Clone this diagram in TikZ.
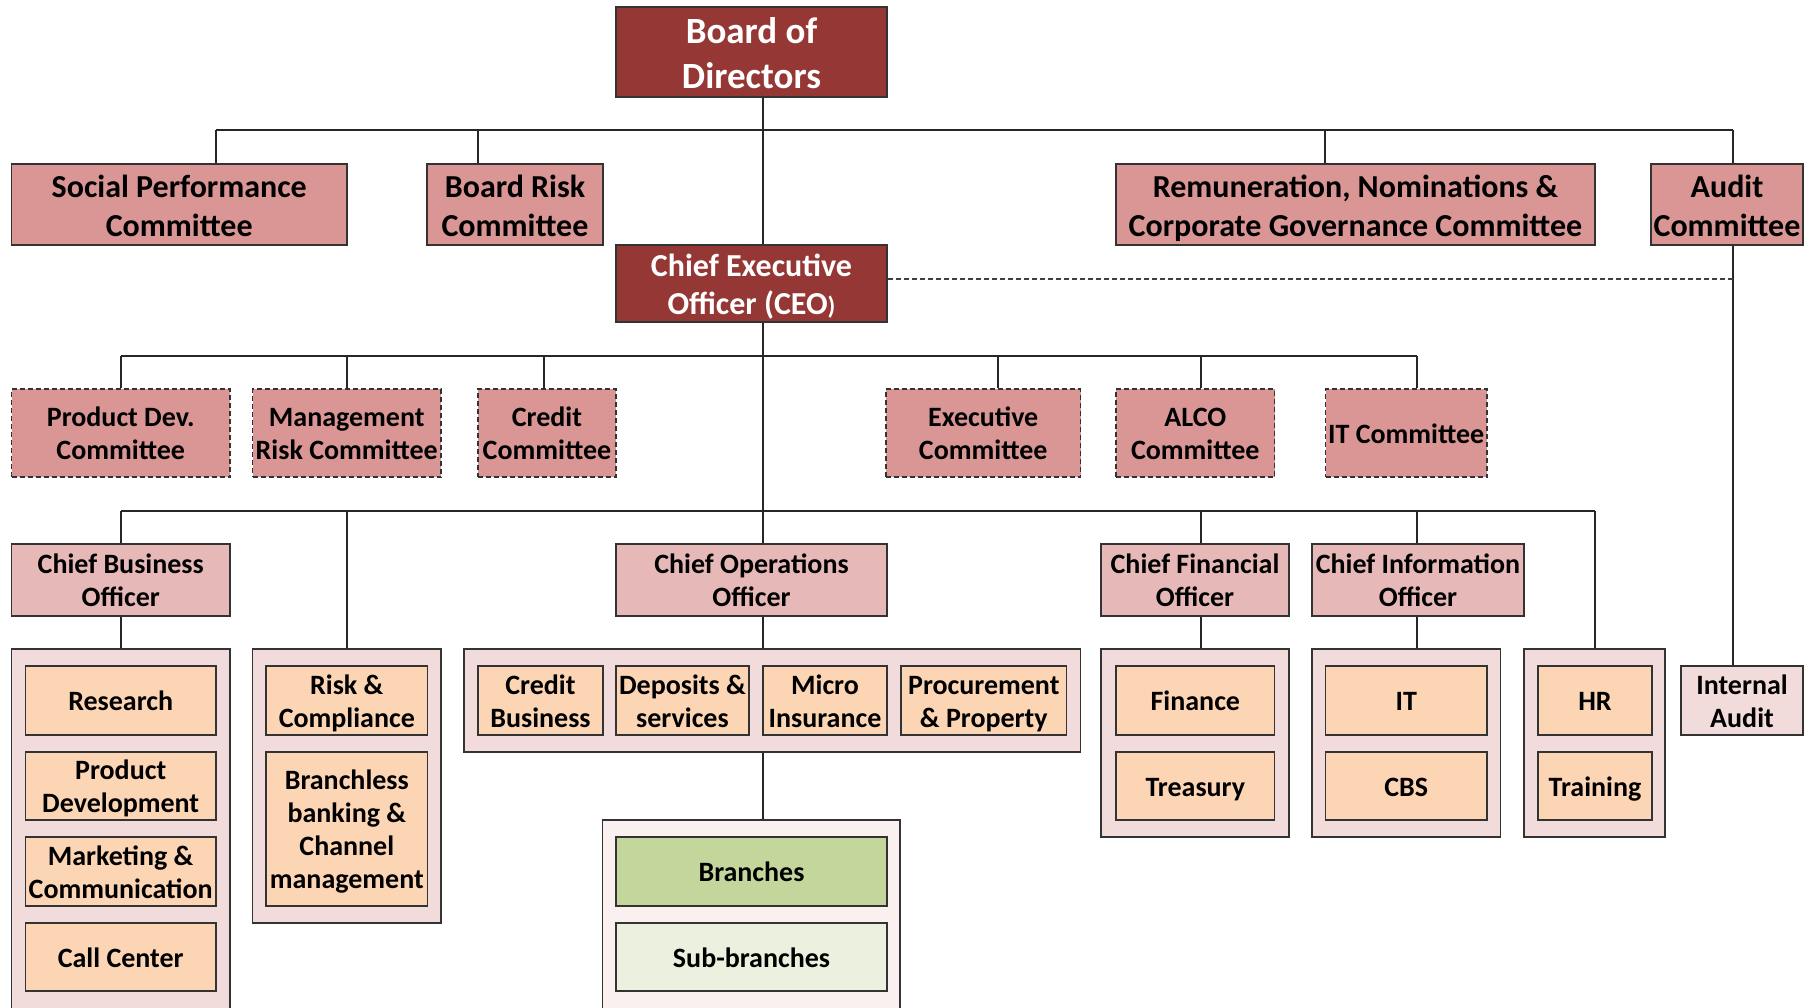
\documentclass[tikz,border=0pt]{standalone}
\usepackage{fontspec}
\setmainfont{Carlito}
\definecolor{dred}{HTML}{953735}
\definecolor{pinkA}{HTML}{D99694}
\definecolor{pinkB}{HTML}{E6B9B8}
\definecolor{pinkC}{HTML}{F2DCDB}
\definecolor{pale}{HTML}{FAF0F0}
\definecolor{peach}{HTML}{FCD5B5}
\definecolor{greenA}{HTML}{C3D69B}
\definecolor{greenB}{HTML}{EBF1DE}
\tikzset{
  base/.style={draw=black!80, line width=1.6pt, inner sep=0pt, align=center,
    font=\bfseries\fontsize{28}{33}\selectfont, text=black},
  topcom/.style={base, fill=pinkA, font=\bfseries\fontsize{32}{39}\selectfont},
  execbox/.style={base, fill=dred, text=white},
  comm/.style={base, fill=pinkA, dash pattern=on 5pt off 3pt},
  officer/.style={base, fill=pinkB},
  grp/.style={base, fill=pinkC},
  palegrp/.style={base, fill=pale},
  unit/.style={base, fill=peach},
  conn/.style={draw=black!85, line width=1.5pt},
  dconn/.style={draw=black!75, line width=1.5pt, dash pattern=on 5pt off 3pt},
}
\newcommand{\ms}{\rule[-0.19\baselineskip]{0pt}{\baselineskip}}
\newcommand{\bx}[7]{\node[#1, minimum width={(#4-#2)*1pt}, minimum height={(#5-#3)*1pt}] (#6) at ({(#2+#4)/2},{(#3+#5)/2}) {\ms #7\ms};}
\newcommand{\gbx}[6]{\node[#1, minimum width={(#4-#2)*1pt}, minimum height={(#5-#3)*1pt}] (#6) at ({(#2+#4)/2},{(#3+#5)/2}) {};}
\begin{document}
\begin{tikzpicture}[x=1pt,y=-1pt]
\clip (0,0) rectangle (1812,1007);
\fill[white] (0,0) rectangle (1812,1007);
% top
\bx{execbox, font=\bfseries\fontsize{37}{45}\selectfont}{616}{7}{887}{97}{board}{Board of\\Directors}
\bx{topcom}{11.5}{164}{347}{245}{sp}{Social Performance\\Committee}
\bx{topcom}{427}{164}{603}{245}{brc}{Board Risk\\Committee}
\bx{topcom}{1116}{164}{1595}{245}{rem}{Remuneration, Nominations \&\\Corporate Governance Committee}
\bx{topcom}{1651}{164}{1803}{245}{aud}{Audit\\Committee}
\bx{execbox, font=\bfseries\fontsize{32}{38}\selectfont}{616}{245}{887}{322}{ceo}{Chief Executive\\Officer (CEO{\fontsize{25}{25}\selectfont)}}
% committees
\bx{comm}{11.5}{389}{230}{477}{pdc}{Product Dev.\\Committee}
\bx{comm}{252.5}{389}{441}{477}{mrc}{Management\\Risk Committee}
\bx{comm}{478}{389}{616}{477}{cc}{Credit\\Committee}
\bx{comm}{886}{389}{1080.5}{477}{exc}{Executive\\Committee}
\bx{comm}{1116}{389}{1274.6}{477}{alco}{ALCO\\Committee}
\bx{comm}{1325.5}{389}{1487}{477}{itc}{IT Committee}
% officers
\bx{officer}{11.5}{544}{230}{616}{cbo}{Chief Business\\Officer}
\bx{officer}{616}{544}{887}{616}{coo}{Chief Operations\\Officer}
\bx{officer}{1101}{544}{1289}{616}{cfo}{Chief Financial\\Officer}
\bx{officer}{1312}{544}{1524}{616}{cio}{Chief Information\\Officer}
% groups
\gbx{grp}{11.5}{649}{230}{1015}{g1}
\gbx{grp}{252.5}{649}{441}{923}{g2}
\gbx{grp}{464}{649}{1080.5}{752}{g3}
\gbx{palegrp}{602.6}{820}{900}{1015}{g4}
\gbx{grp}{1101}{649}{1289}{837}{g5}
\gbx{grp}{1312}{649}{1500.5}{837}{g6}
\gbx{grp}{1524}{649}{1665}{837}{g7}
% units
\bx{unit}{25.4}{666}{216}{735}{res}{Research}
\bx{unit}{25.4}{752}{216}{820}{prd}{Product\\Development}
\bx{unit}{25.4}{837}{216}{906}{mkt}{Marketing \&\\Communication}
\bx{unit}{25.4}{923}{216}{991}{call}{Call Center}
\bx{unit}{266}{666}{427.6}{735}{rc}{Risk \&\\Compliance}
\bx{unit}{266}{752}{427.6}{906}{bb}{Branchless\\banking \&\\Channel\\management}
\bx{unit}{478}{666}{603}{735}{crb}{Credit\\Business}
\bx{unit}{616}{666}{749}{735}{dep}{Deposits \&\\services}
\bx{unit}{763}{666}{887}{735}{mi}{Micro\\Insurance}
\bx{unit}{901}{666}{1066.6}{735}{proc}{Procurement\\\& Property}
\bx{base, fill=greenA}{616}{837}{887}{906}{br}{Branches}
\bx{base, fill=greenB}{616}{923}{887}{991}{sbr}{Sub-branches}
\bx{unit}{1116}{666}{1274.6}{735}{fin}{Finance}
\bx{unit}{1116}{752}{1274.6}{820}{tre}{Treasury}
\bx{unit}{1325.5}{666}{1487}{735}{it}{IT}
\bx{unit}{1325.5}{752}{1487}{820}{cbs}{CBS}
\bx{unit}{1538}{666}{1652}{735}{hr}{HR}
\bx{unit}{1538}{752}{1652}{820}{trn}{Training}
\bx{grp}{1681}{666}{1803}{735}{ia}{Internal\\Audit}
% bus coordinates
\coordinate (b1a) at (216,130);
\coordinate (b1b) at (478,130);
\coordinate (sx) at (763,130);
\coordinate (b1d) at (1325,130);
\coordinate (b1e) at (1733,130);
\coordinate (dl) at (1733,279);
\coordinate (b2a) at (121,356);
\coordinate (b2b) at (347,356);
\coordinate (b2c) at (544,356);
\coordinate (b2d) at (998,356);
\coordinate (b2e) at (1201,356);
\coordinate (b2f) at (1417,356);
\coordinate (b3a) at (121,511);
\coordinate (b3b) at (347,511);
\coordinate (b3c) at (1201,511);
\coordinate (b3d) at (1417,511);
\coordinate (b3e) at (1595,511);
% connectors
\draw[conn] (b1a) -- (b1e);
\draw[conn] (board.south -| sx) -- (ceo.north -| sx);
\draw[conn] (b1a) -- (sp.north -| b1a);
\draw[conn] (b1b) -- (brc.north -| b1b);
\draw[conn] (b1d) -- (rem.north -| b1d);
\draw[conn] (b1e) -- (aud.north -| b1e);
\draw[conn] (aud.south -| b1e) -- (ia.north -| b1e);
\draw[dconn] (ceo.east |- dl) -- (dl);
\draw[conn] (ceo.south -| sx) -- (coo.north -| sx);
\draw[conn] (b2a) -- (b2f);
\draw[conn] (b2a) -- (pdc.north -| b2a);
\draw[conn] (b2b) -- (mrc.north -| b2b);
\draw[conn] (b2c) -- (cc.north -| b2c);
\draw[conn] (b2d) -- (exc.north -| b2d);
\draw[conn] (b2e) -- (alco.north -| b2e);
\draw[conn] (b2f) -- (itc.north -| b2f);
\draw[conn] (b3a) -- (b3e);
\draw[conn] (b3a) -- (cbo.north -| b3a);
\draw[conn] (b3b) -- (g2.north -| b3b);
\draw[conn] (b3c) -- (cfo.north -| b3c);
\draw[conn] (b3d) -- (cio.north -| b3d);
\draw[conn] (b3e) -- (g7.north -| b3e);
\draw[conn] (cbo.south -| b3a) -- (g1.north -| b3a);
\draw[conn] (coo.south -| sx) -- (g3.north -| sx);
\draw[conn] (g3.south -| sx) -- (g4.north -| sx);
\draw[conn] (cfo.south -| b3c) -- (g5.north -| b3c);
\draw[conn] (cio.south -| b3d) -- (g6.north -| b3d);
\end{tikzpicture}
\end{document}
